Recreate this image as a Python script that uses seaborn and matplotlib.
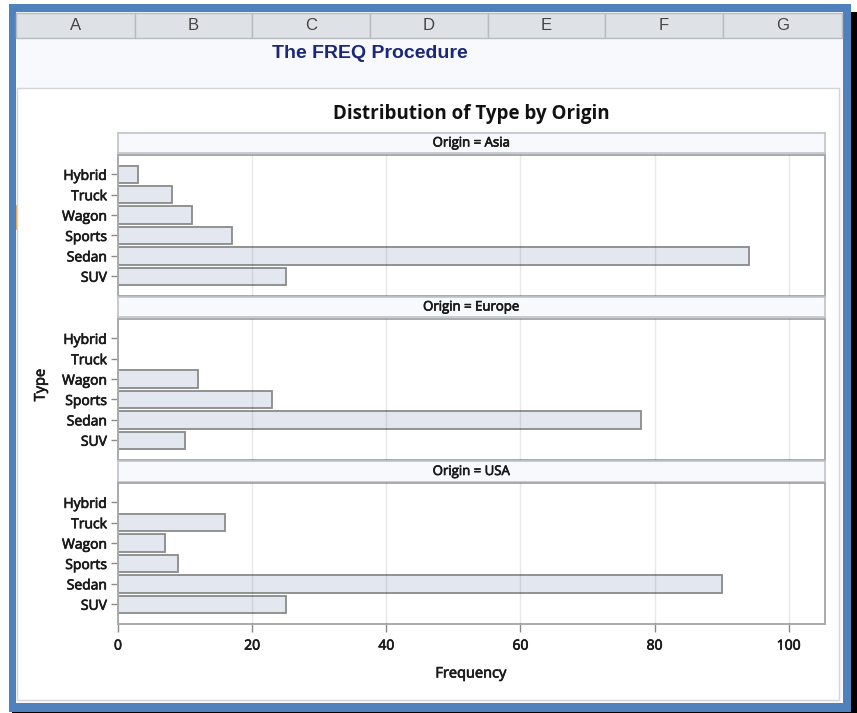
import matplotlib
matplotlib.use("Agg")
import matplotlib.pyplot as plt
import matplotlib.patheffects as pe
import seaborn as sns
import pandas as pd
from matplotlib.patches import Rectangle

# ---------------- data ----------------
types = ["Hybrid", "Truck", "Wagon", "Sports", "Sedan", "SUV"]
origins = ["Asia", "Europe", "USA"]
asia = [3, 8, 11, 17, 94, 25]
europe = [0, 0, 12, 23, 78, 10]
usa = [0, 16, 7, 9, 90, 25]
x_ticks = [0, 20, 40, 60, 80, 100]
columns = ["A", "B", "C", "D", "E", "F", "G"]

rows = []
for org, vals in zip(origins, [asia, europe, usa]):
    for t, v in zip(types, vals):
        rows.append({"Origin": org, "Type": t, "Frequency": v})
df = pd.DataFrame(rows)

# ---------------- figure ----------------
W, H = 857, 713
sns.set_theme(style="white")
plt.rcParams["font.family"] = ["Open Sans", "DejaVu Sans"]

fig = plt.figure(figsize=(W / 100, H / 100), dpi=100)
fig.patch.set_facecolor("white")

txt_col = "#1A1A1A"
heavy = [pe.withStroke(linewidth=0.5, foreground=txt_col)]


def R(x, y, w, h, z=-10, **kw):
    fig.patches.append(Rectangle((x / W, 1 - (y + h) / H), w / W, h / H,
                                 transform=fig.transFigure, figure=fig,
                                 zorder=z, **kw))


def T(x, y, s, **kw):
    return fig.text(x / W, 1 - y / H, s, **kw)


# window frame
R(9, 4, 842, 708, color="#4F81BD", lw=0)
R(851, 12, 6, 701, color="#000000", lw=0)
R(12, 712, 845, 1, color="#000000", lw=0)
R(16, 12, 827, 691, color="#F7F9FD", lw=0, z=-9)
R(16, 205, 2, 25, color="#E8A13A", lw=0, z=-8)

# column header row
col_edges = [16, 135, 252, 370, 488, 605, 723, 842]
for i, c in enumerate(columns):
    x0, x1 = col_edges[i], col_edges[i + 1]
    R(x0, 13, x1 - x0, 25, facecolor="#DEE2E7", edgecolor="#B8BBC0", lw=1, z=-8)
    T((x0 + x1) / 2, 26, c, ha="center", va="center", fontsize=12,
      color="#444444", family=["Liberation Sans", "DejaVu Sans"])

T(370, 53, "The FREQ Procedure", ha="center", va="center", fontsize=14,
  fontweight="bold", color="#1B2878", family=["Liberation Sans", "DejaVu Sans"])

# chart panel
R(17, 88, 822, 612, facecolor="white", edgecolor="#D3D5D9", lw=1, z=-7)

T(471, 114, "Distribution of Type by Origin", ha="center", va="center",
  fontsize=13.5, fontweight="bold", color="#111111")

panels = [(133, 153, 155, 296), (297, 317, 319, 460), (461, 482, 483, 624)]
x_left, x_right = 118, 825
xmax = 105.4

bar_fill = "#E3E7F0"
bar_edge = "#8A8A8A"
frame_col = "#A8AAAE"

for i, (org, (s_top, s_bot, b_top, b_bot)) in enumerate(zip(origins, panels)):
    # strip
    sax = fig.add_axes([x_left / W, 1 - s_bot / H, (x_right - x_left) / W,
                        (s_bot - s_top) / H])
    sax.set_facecolor("#F8F9FD")
    sax.set_xticks([])
    sax.set_yticks([])
    for sp in sax.spines.values():
        sp.set_color("#BFC2C7")
        sp.set_linewidth(1.2)
    sax.text(0.5, 0.5, f"Origin = {org}", transform=sax.transAxes,
             ha="center", va="center", fontsize=9.5, color=txt_col,
             path_effects=heavy)

    ax = fig.add_axes([x_left / W, 1 - b_bot / H, (x_right - x_left) / W,
                       (b_bot - b_top) / H])
    sub = df[(df["Origin"] == org) & (df["Frequency"] > 0)]
    sns.barplot(data=sub, x="Frequency", y="Type", order=types, orient="h",
                color=bar_fill, saturation=1, edgecolor=bar_edge,
                linewidth=1.3, width=0.85, ax=ax)
    ax.set_facecolor("white")
    ax.set_xlim(0, xmax)
    ax.set_ylim(5.97, -0.95)
    ax.set_xticks(x_ticks)
    ax.grid(False)
    for xv in x_ticks[1:]:
        ax.axvline(xv, color=(0, 0, 0, 0.09), lw=1, zorder=5)
    for sp in ax.spines.values():
        sp.set_color(frame_col)
        sp.set_linewidth(1.4)
    ax.set_ylabel("")
    ax.set_xlabel("")
    ax.tick_params(axis="y", left=True, length=5, width=1, color="#8A8A8A",
                   labelsize=10, labelcolor=txt_col, pad=3)
    if i < 2:
        ax.tick_params(axis="x", bottom=False, labelbottom=False)
    else:
        ax.tick_params(axis="x", bottom=True, length=5.5, width=1,
                       color="#8A8A8A", labelsize=10, labelcolor=txt_col,
                       pad=5)
    for lab in ax.get_yticklabels() + ax.get_xticklabels():
        lab.set_path_effects(heavy)

T(471, 674, "Frequency", ha="center", va="center", fontsize=10.5,
  color=txt_col, path_effects=heavy)
T(41, 385, "Type", ha="center", va="center", rotation=90, fontsize=10.5,
  color=txt_col, path_effects=heavy)

fig.savefig("out.png", dpi=100)
